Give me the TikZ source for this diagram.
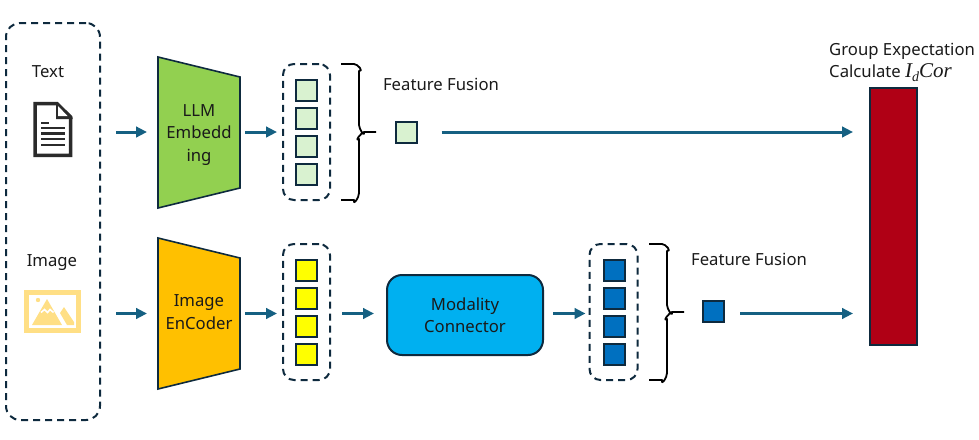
\documentclass[tikz,border=0pt]{standalone}
\usepackage{fontspec}
\setmainfont{Noto Sans}
\newfontfamily\formulafont{Liberation Serif}
\usetikzlibrary{arrows.meta,calc}
\definecolor{edgedark}{HTML}{0E2A3E}
\definecolor{flowblue}{HTML}{156082}
\definecolor{llmgreen}{HTML}{92D050}
\definecolor{encgold}{HTML}{FFC000}
\definecolor{paleg}{HTML}{D9F2D0}
\definecolor{yel}{HTML}{FFFF00}
\definecolor{blu}{HTML}{0070C0}
\definecolor{cyanbox}{HTML}{00B0F0}
\definecolor{redbar}{HTML}{B00015}
\definecolor{icongold}{HTML}{FFDF85}
\definecolor{icondark}{HTML}{2B2B2B}
\definecolor{txt}{HTML}{1A1A1A}
\tikzset{
  lbl/.style={font=\fontsize{16.7}{22.5}\selectfont,text=txt,inner sep=0pt,align=center},
  dashbox/.style={draw=edgedark,line width=2pt,dash pattern=on 7pt off 5pt,rounded corners=11pt,inner sep=0pt,outer sep=0pt},
  cell/.style={draw=edgedark,line width=2pt,minimum size=21pt,inner sep=0pt,outer sep=0pt},
  flow/.style={draw=flowblue,line width=3pt,-{Triangle[length=11pt,width=10.5pt]}},
  encoder/.style={draw=edgedark,line width=1.6pt,line join=miter},
  slot/.style={minimum width=82pt,minimum height=131pt,inner sep=0pt,outer sep=0pt,lbl},
  bracket/.style={draw=black,line width=1.8pt,line join=round},
}
\newcommand{\bracketto}[1]{%
  \draw[bracket] (#1) ++(-35,-68) -- ++(13,0) .. controls ++(4,0) and ++(5,1) .. ++(5,7) -- ++(0,54)
    .. controls ++(0,4) and ++(1,6) .. ++(5,7) -- ++(12,0) ++(-12,0)
    .. controls ++(-3,1) and ++(-5,3) .. ++(-5,7) -- ++(0,54) .. controls ++(0,5) and ++(-1,6) .. ++(-5,7) -- ++(-13,0);}
\begin{document}
\begin{tikzpicture}[x=1pt,y=-1pt]
\useasboundingbox (0,0) rectangle (979,439);
% input panel
\node[dashbox,minimum width=94pt,minimum height=397pt,rounded corners=14pt] (inputs) at (53,221.5) {};
\node[lbl] (ttext) at (48,72) {Text};
\node[lbl] (timage) at (52,262.5) {Image};
% document icon
\draw[icondark,line width=3.5pt,line join=miter] (35,103.7) -- (57,103.7) -- (70.7,117) -- (70.7,155.3) -- (35,155.3) -- cycle;
\fill[icondark] (56,102) -- (72.5,117.5) -- (72.5,119) -- (56,119) -- cycle;
\fill[white] (58,106) -- (67.5,116) -- (58,116) -- cycle;
\draw[icondark,line width=2.4pt] (41,123) -- (49,123) (41,128) -- (65,128) (41,133.5) -- (65,133.5) (41,139) -- (65,139) (41,145) -- (65,145);
% picture icon
\draw[icongold,line width=5pt] (26.5,292.5) rectangle (78.5,330.5);
\fill[icongold] (32,325) -- (47,299) -- (62,325) -- cycle;
\draw[white,line width=1.6pt] (41,312.5) -- (44.5,309.5) -- (47.5,312.5) -- (50,309.5) -- (53.5,312.5);
\fill[icongold] (60,313) -- (64,307) -- (74,322) -- (74,325) -- (67,325) -- cycle;
\fill[icongold] (38,300) circle (2.2);
% encoders
\node[slot] (enc1) at (199,132.5) {};
\node[slot] (enc2) at (199,313.5) {};
\draw[encoder,fill=llmgreen] (158,57) -- (240,77) -- (240,188) -- (158,208) -- cycle;
\draw[encoder,fill=encgold] (158,238) -- (240,258) -- (240,369) -- (158,389) -- cycle;
\node[lbl] (enc1t) at (199,135) {LLM\\Embedd\\ing};
\node[lbl] (enc2t) at (199,312) {Image\\EnCoder};
% token groups
\node[dashbox,minimum width=47pt,minimum height=136pt] (g1) at (306.5,132) {};
\foreach \n/\y in {1/90.5,2/118.5,3/146.5,4/174.5}
  \node[cell,fill=paleg] (a\n) at (306,\y) {};
\node[dashbox,minimum width=47pt,minimum height=136pt] (g2) at (306.5,312) {};
\foreach \n/\y in {1/270,2/298,3/326,4/354}
  \node[cell,fill=yel] (b\n) at (306,\y) {};
\node[dashbox,minimum width=48pt,minimum height=136pt] (g3) at (613.5,312) {};
\foreach \n/\y in {1/270,2/298,3/326,4/354}
  \node[cell,fill=blu] (c\n) at (614.5,\y) {};
% braces
\coordinate (tip1) at (376,132);
\coordinate (tip2) at (684,312);
\bracketto{tip1}
\bracketto{tip2}
% fused cells
\node[cell,fill=paleg] (f1) at (406,132) {};
\node[cell,fill=blu] (f2) at (713.5,311) {};
\node[lbl] (ff1) at (441,84) {Feature Fusion};
\node[lbl] (ff2) at (749,259) {Feature Fusion};
% connector box
\node[draw=edgedark,line width=2pt,fill=cyanbox,rounded corners=15pt,minimum width=156pt,minimum height=80pt,inner sep=0pt,outer sep=0pt,lbl] (mod) at (465,315) {Modality\\Connector};
% output
\node[draw=edgedark,line width=2pt,fill=redbar,minimum width=47pt,minimum height=257pt,inner sep=0pt,outer sep=0pt] (out) at (893.5,216.5) {};
\node[lbl,align=left,anchor=north west] (gtitle) at (829,42.5) {Group Expectation\\Calculate {\formulafont\itshape\fontsize{21}{22.5}\selectfont I\raisebox{-3.5pt}{\fontsize{14}{14}\selectfont d}Cor}};
% connectors
\draw[flow,shorten <=16pt,shorten >=11pt] (inputs.east|-g1) -- (enc1.west|-g1);
\draw[flow,shorten <=16pt,shorten >=11pt] (inputs.east|-enc2.west) -- (enc2.west);
\draw[flow,shorten <=5pt,shorten >=6pt] (enc1.east|-g1) -- (g1.west);
\draw[flow,shorten <=5pt,shorten >=6pt] (enc2.east) -- (g2.west|-enc2.east);
\draw[flow,shorten <=12pt,shorten >=13pt] (g2.east|-enc2.east) -- (mod.west|-enc2.east);
\draw[flow,shorten <=10pt,shorten >=4pt] (mod.east|-enc2.east) -- (g3.west|-enc2.east);
\draw[flow,shorten <=25pt,shorten >=17pt] (f1.east) -- (out.west|-f1.east);
\draw[flow,shorten <=16pt,shorten >=17pt] (f2.east|-enc2.east) -- (out.west|-enc2.east);
\end{tikzpicture}
\end{document}
